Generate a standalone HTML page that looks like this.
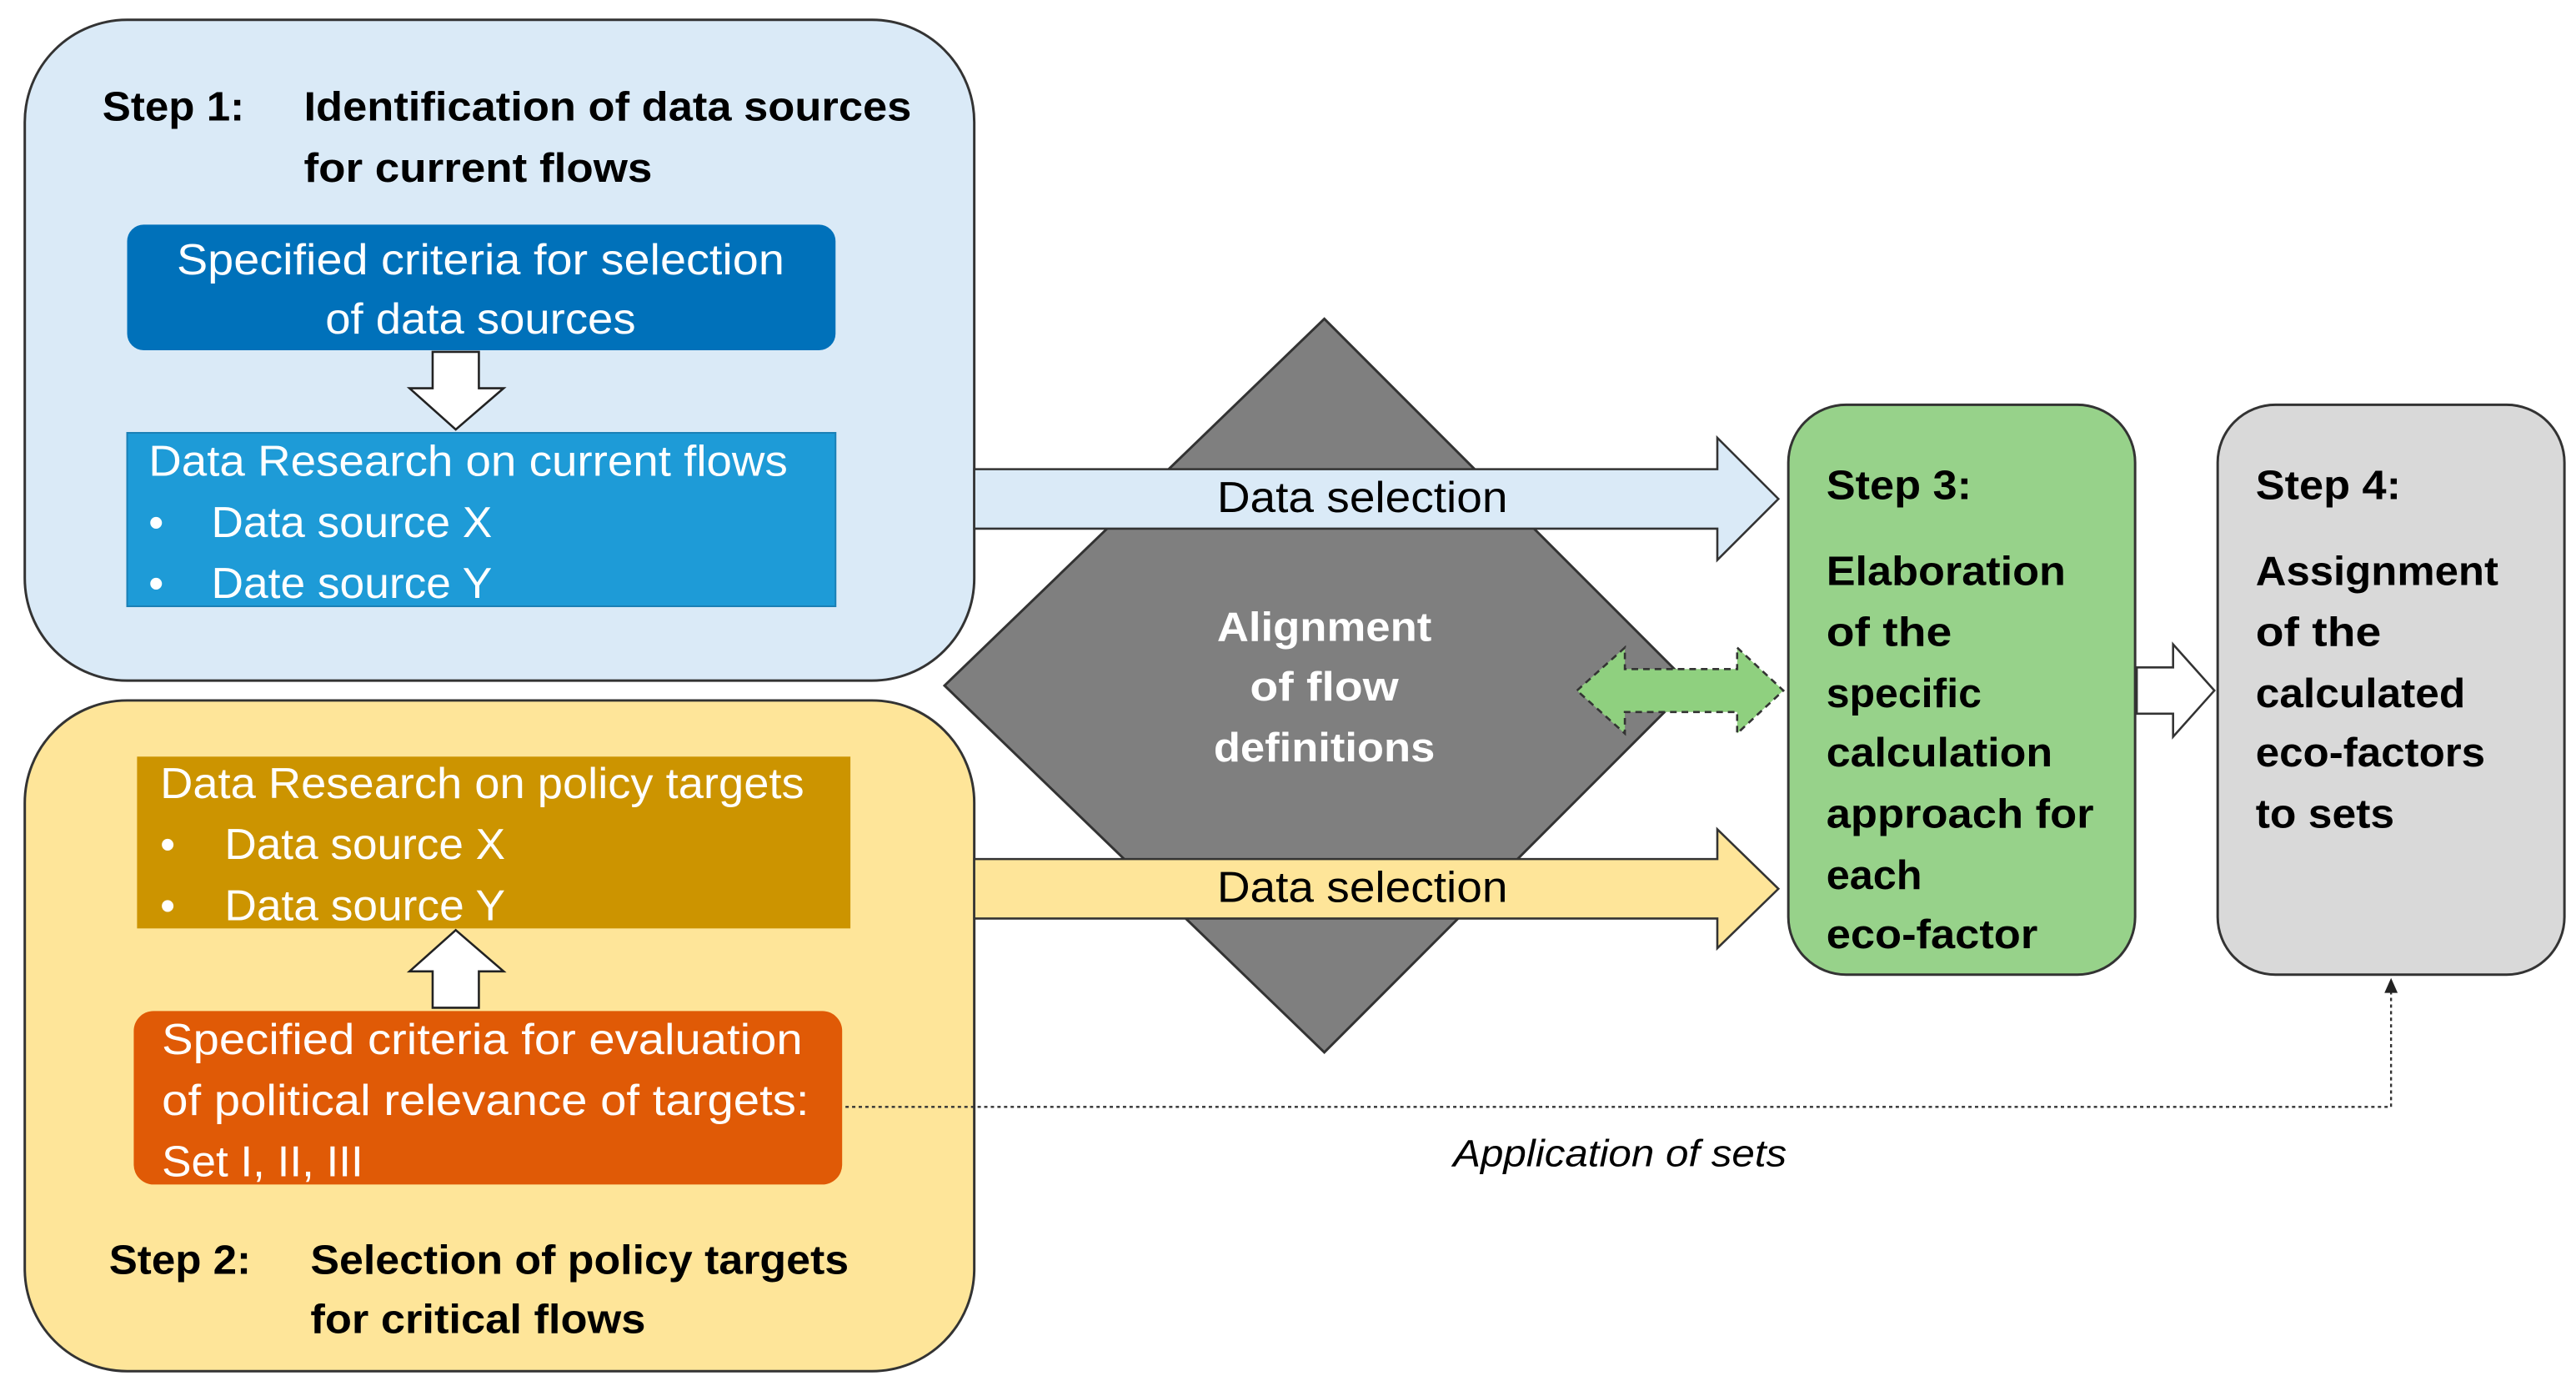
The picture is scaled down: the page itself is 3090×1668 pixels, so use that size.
<!DOCTYPE html>
<html><head><meta charset="utf-8"><style>html,body{margin:0;padding:0;background:#fff}svg{display:block}</style></head>
<body>
<svg width="3090" height="1668" viewBox="0 0 1560 842" preserveAspectRatio="none" xmlns="http://www.w3.org/2000/svg" font-family="Liberation Sans, sans-serif">
<rect x="15" y="12" width="575" height="400" rx="62" fill="#DAEAF7" stroke="#333" stroke-width="1.5"/>
<g font-weight="bold" font-size="25" fill="#000">
<text x="62" y="73" textLength="86" lengthAdjust="spacingAndGlyphs">Step 1:</text>
<text x="184" y="73" textLength="368" lengthAdjust="spacingAndGlyphs">Identification of data sources</text>
<text x="184" y="110" textLength="211" lengthAdjust="spacingAndGlyphs">for current flows</text>
</g>
<rect x="77" y="136" width="429" height="76" rx="10" fill="#0071BA"/>
<g font-size="26" fill="#fff">
<text x="291" y="166" text-anchor="middle" textLength="368" lengthAdjust="spacingAndGlyphs">Specified criteria for selection</text>
<text x="291" y="202" text-anchor="middle" textLength="188" lengthAdjust="spacingAndGlyphs">of data sources</text>
</g>
<path d="M262,213 H290 V235 H305 L276,260 L248,235 H262 Z" fill="#fff" stroke="#222" stroke-width="1.3"/>
<rect x="77" y="262" width="429" height="105" fill="#1E9BD7" stroke="#1a7fb5" stroke-width="1"/>
<g font-size="26" fill="#fff">
<text x="90" y="288" textLength="387" lengthAdjust="spacingAndGlyphs">Data Research on current flows</text>
<text x="90" y="325">•</text><text x="128" y="325" textLength="170" lengthAdjust="spacingAndGlyphs">Data source X</text>
<text x="90" y="362">•</text><text x="128" y="362" textLength="170" lengthAdjust="spacingAndGlyphs">Date source Y</text>
</g>
<rect x="15" y="424" width="575" height="406" rx="62" fill="#FEE599" stroke="#333" stroke-width="1.5"/>
<rect x="83" y="458" width="432" height="104" fill="#CC9400"/>
<g font-size="26" fill="#fff">
<text x="97" y="483" textLength="390" lengthAdjust="spacingAndGlyphs">Data Research on policy targets</text>
<text x="97" y="520">•</text><text x="136" y="520" textLength="170" lengthAdjust="spacingAndGlyphs">Data source X</text>
<text x="97" y="557">•</text><text x="136" y="557" textLength="170" lengthAdjust="spacingAndGlyphs">Data source Y</text>
</g>
<path d="M262,610 H290 V588 H305 L276,563 L248,588 H262 Z" fill="#fff" stroke="#222" stroke-width="1.3"/>
<rect x="81" y="612" width="429" height="105" rx="12" fill="#E05A06"/>
<g font-size="26" fill="#fff">
<text x="98" y="638" textLength="388" lengthAdjust="spacingAndGlyphs">Specified criteria for evaluation</text>
<text x="98" y="675" textLength="392" lengthAdjust="spacingAndGlyphs">of political relevance of targets:</text>
<text x="98" y="712" textLength="122" lengthAdjust="spacingAndGlyphs">Set I, II, III</text>
</g>
<g font-weight="bold" font-size="25" fill="#000">
<text x="66" y="771" textLength="86" lengthAdjust="spacingAndGlyphs">Step 2:</text>
<text x="188" y="771" textLength="326" lengthAdjust="spacingAndGlyphs">Selection of policy targets</text>
<text x="188" y="807" textLength="203" lengthAdjust="spacingAndGlyphs">for critical flows</text>
</g>
<polygon points="802,193 1024,415 802,637 572,415" fill="#7F7F7F" stroke="#333" stroke-width="1.5"/>
<g font-weight="bold" font-size="25" fill="#fff" text-anchor="middle">
<text x="802" y="388" textLength="130" lengthAdjust="spacingAndGlyphs">Alignment</text>
<text x="802" y="424" textLength="90" lengthAdjust="spacingAndGlyphs">of flow</text>
<text x="802" y="461" textLength="134" lengthAdjust="spacingAndGlyphs">definitions</text>
</g>
<path d="M590,284 H1040 V265 L1077,302 L1040,339 V320 H590 Z" fill="#DAEAF7" stroke="#333" stroke-width="1.3"/>
<text x="825" y="310" font-size="26" text-anchor="middle" textLength="176" lengthAdjust="spacingAndGlyphs">Data selection</text>
<path d="M590,520 H1040 V502 L1077,538 L1040,574 V556 H590 Z" fill="#FEE599" stroke="#333" stroke-width="1.3"/>
<text x="825" y="546" font-size="26" text-anchor="middle" textLength="176" lengthAdjust="spacingAndGlyphs">Data selection</text>
<path d="M955,418 L984,392 V405 H1052 V392 L1080,418 L1052,444 V431 H984 V444 Z" fill="#8FD07F" stroke="#333" stroke-width="1.3" stroke-dasharray="4,3"/>
<rect x="1083" y="245" width="210" height="345" rx="35" fill="#97D28A" stroke="#333" stroke-width="1.5"/>
<g font-weight="bold" font-size="25" fill="#000">
<text x="1106" y="302" textLength="88" lengthAdjust="spacingAndGlyphs">Step 3:</text>
<text x="1106" y="354" textLength="145" lengthAdjust="spacingAndGlyphs">Elaboration</text>
<text x="1106" y="391" textLength="76" lengthAdjust="spacingAndGlyphs">of the</text>
<text x="1106" y="428" textLength="94" lengthAdjust="spacingAndGlyphs">specific</text>
<text x="1106" y="464" textLength="137" lengthAdjust="spacingAndGlyphs">calculation</text>
<text x="1106" y="501" textLength="162" lengthAdjust="spacingAndGlyphs">approach for</text>
<text x="1106" y="538" textLength="58" lengthAdjust="spacingAndGlyphs">each</text>
<text x="1106" y="574" textLength="128" lengthAdjust="spacingAndGlyphs">eco-factor</text>
</g>
<path d="M1294,404 H1316 V390 L1341,418 L1316,446 V432 H1294 Z" fill="#fff" stroke="#333" stroke-width="1.3"/>
<rect x="1343" y="245" width="210" height="345" rx="35" fill="#D9D9D9" stroke="#333" stroke-width="1.5"/>
<g font-weight="bold" font-size="25" fill="#000">
<text x="1366" y="302" textLength="88" lengthAdjust="spacingAndGlyphs">Step 4:</text>
<text x="1366" y="354" textLength="147" lengthAdjust="spacingAndGlyphs">Assignment</text>
<text x="1366" y="391" textLength="76" lengthAdjust="spacingAndGlyphs">of the</text>
<text x="1366" y="428" textLength="127" lengthAdjust="spacingAndGlyphs">calculated</text>
<text x="1366" y="464" textLength="139" lengthAdjust="spacingAndGlyphs">eco-factors</text>
<text x="1366" y="501" font-size="25" textLength="84" lengthAdjust="spacingAndGlyphs">to sets</text>
</g>
<path d="M512,670 H1448 V600" fill="none" stroke="#333" stroke-width="1.2" stroke-dasharray="2,2"/>
<polygon points="1448,592 1444,601 1452,601" fill="#222"/>
<text x="880" y="706" font-size="23" font-style="italic" textLength="202" lengthAdjust="spacingAndGlyphs">Application of sets</text>
</svg>
</body></html>
